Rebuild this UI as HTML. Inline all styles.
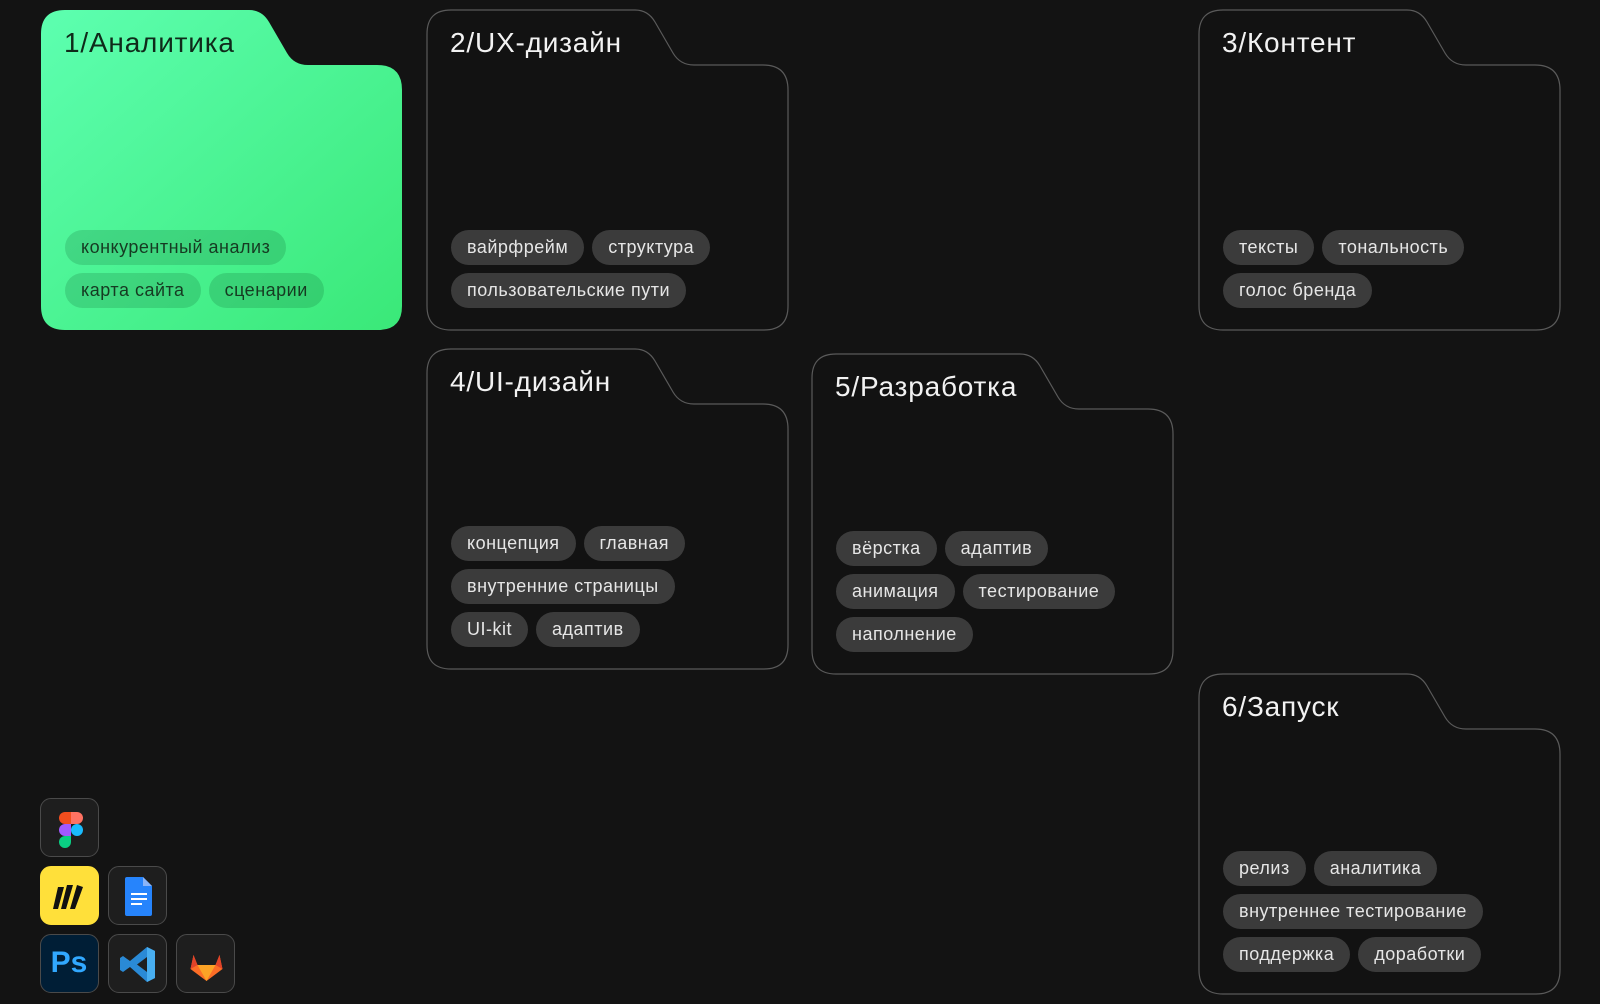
<!DOCTYPE html>
<html><head><meta charset="utf-8"><style>
*{margin:0;padding:0;box-sizing:border-box}
body{width:1600px;height:1004px;background:#131313;position:relative;overflow:hidden;font-family:"Liberation Sans","DejaVu Sans",sans-serif}
.f{position:absolute;width:361px;height:320px}
.f svg{position:absolute;left:0;top:0;overflow:visible}
.t{position:absolute;left:23px;top:17px;font-size:28px;color:#f2f2f2;letter-spacing:0.8px}
.tags{position:absolute;left:24px;right:10px;bottom:22px;display:flex;flex-wrap:wrap;gap:8px 8px}
.tag{height:35px;line-height:35px;padding:0 16px;border-radius:18px;background:#3b3b3b;color:#e6e6e6;font-size:18px;letter-spacing:0.5px;white-space:nowrap}
.g .t{color:#0f2a1a}
.g .tag{background:rgba(0,60,25,0.16);color:#163a22}
.ic{position:absolute;width:59px;height:59px;border-radius:11px;background:#1e1e1e;border:1.5px solid #4a4a4a;overflow:hidden}
</style></head><body>
<svg width="0" height="0" style="position:absolute"><defs>
<linearGradient id="gr" x1="0" y1="0" x2="1" y2="1"><stop offset="0" stop-color="#5dffb0"/><stop offset="1" stop-color="#3ae878"/></linearGradient>
<path id="fp" d="M0,24 Q0,0 24,0 L208,0 Q221,0 228,12 L246,43 Q253,55 267,55 L336,55 Q361,55 361,80 L361,296 Q361,320 337,320 L24,320 Q0,320 0,296 Z"/>
</defs></svg>

<div class="f g" style="left:41px;top:10px"><svg width="361" height="320"><use href="#fp" fill="url(#gr)"/></svg>
<div class="t">1/Аналитика</div>
<div class="tags"><span class="tag">конкурентный анализ</span><span class="tag">карта сайта</span><span class="tag">сценарии</span></div></div>

<div class="f" style="left:427px;top:10px"><svg width="361" height="320"><use href="#fp" fill="#121212" stroke="#5a5a5a" stroke-width="1.2"/></svg>
<div class="t">2/UX-дизайн</div>
<div class="tags"><span class="tag">вайрфрейм</span><span class="tag">структура</span><span class="tag">пользовательские пути</span></div></div>

<div class="f" style="left:1199px;top:10px"><svg width="361" height="320"><use href="#fp" fill="#121212" stroke="#5a5a5a" stroke-width="1.2"/></svg>
<div class="t">3/Контент</div>
<div class="tags"><span class="tag">тексты</span><span class="tag">тональность</span><span class="tag">голос бренда</span></div></div>

<div class="f" style="left:427px;top:349px"><svg width="361" height="320"><use href="#fp" fill="#121212" stroke="#5a5a5a" stroke-width="1.2"/></svg>
<div class="t">4/UI-дизайн</div>
<div class="tags" style="right:60px"><span class="tag">концепция</span><span class="tag">главная</span><span class="tag">внутренние страницы</span><span class="tag">UI-kit</span><span class="tag">адаптив</span></div></div>

<div class="f" style="left:812px;top:354px"><svg width="361" height="320"><use href="#fp" fill="#121212" stroke="#5a5a5a" stroke-width="1.2"/></svg>
<div class="t">5/Разработка</div>
<div class="tags" style="right:40px"><span class="tag">вёрстка</span><span class="tag">адаптив</span><span class="tag">анимация</span><span class="tag">тестирование</span><span class="tag">наполнение</span></div></div>

<div class="f" style="left:1199px;top:674px"><svg width="361" height="320"><use href="#fp" fill="#121212" stroke="#5a5a5a" stroke-width="1.2"/></svg>
<div class="t">6/Запуск</div>
<div class="tags"><span class="tag">релиз</span><span class="tag">аналитика</span><span class="tag">внутреннее тестирование</span><span class="tag">поддержка</span><span class="tag">доработки</span></div></div>

<div class="ic" style="left:40px;top:798px"><svg width="59" height="59" viewBox="0 0 59 59">
<path d="M24,13h6v12h-6a6,6 0 0 1 0-12z" fill="#f24e1e"/><path d="M30,13h6a6,6 0 0 1 0,12h-6z" fill="#ff7262"/>
<path d="M24,25h6v12h-6a6,6 0 0 1 0-12z" fill="#a259ff"/><circle cx="36" cy="31" r="6" fill="#1abcfe"/>
<path d="M24,37h6v6a6,6 0 1 1 -6,-6z" fill="#0acf83"/></svg></div>

<div class="ic" style="left:40px;top:866px;background:#ffe03a;border-color:#ffe03a"><svg width="59" height="59" viewBox="0 0 59 59">
<path d="M17,20l6,0-6,22-5,0z M26,18l6,0-7,24-5,0z M36,18l6,2-8,22-5,0z" fill="#111"/></svg></div>
<div class="ic" style="left:108px;top:866px"><svg width="59" height="59" viewBox="0 0 59 59">
<path d="M18,10h16l9,9v28a2,2 0 0 1-2,2h-23a2,2 0 0 1-2-2v-35a2,2 0 0 1 2-2z" fill="#2684fc"/><path d="M34,10v9h9z" fill="#8ab4f8"/>
<rect x="22" y="26" width="16" height="2" fill="#fff"/><rect x="22" y="31" width="16" height="2" fill="#fff"/><rect x="22" y="36" width="11" height="2" fill="#fff"/></svg></div>

<div class="ic" style="left:40px;top:934px;background:#001e36"><div style="position:absolute;left:0;top:0;width:56px;height:56px;line-height:56px;text-align:center;color:#31a8ff;font-weight:bold;font-size:30px">Ps</div></div>
<div class="ic" style="left:108px;top:934px"><svg width="59" height="59" viewBox="0 0 59 59">
<path d="M38,12l8,4v27l-8,4-17-15-7,5-3-2v-12l3-2 7,5z M38,22l-10,7.5 10,7.5z" fill="#2a8ad6"/><path d="M38,12l8,4v27l-8,4z" fill="#48aef0"/></svg></div>
<div class="ic" style="left:176px;top:934px"><svg width="59" height="59" viewBox="0 0 59 59">
<path d="M29.5,46l-16-12 3-14 4,10h18l4-10 3,14z" fill="#fc6d26"/><path d="M29.5,46l-9-16h18z" fill="#fca326"/><path d="M16.5,20l4,10-7,4z M42.5,20l-4,10 7,4z" fill="#e24329"/></svg></div>
</body></html>
